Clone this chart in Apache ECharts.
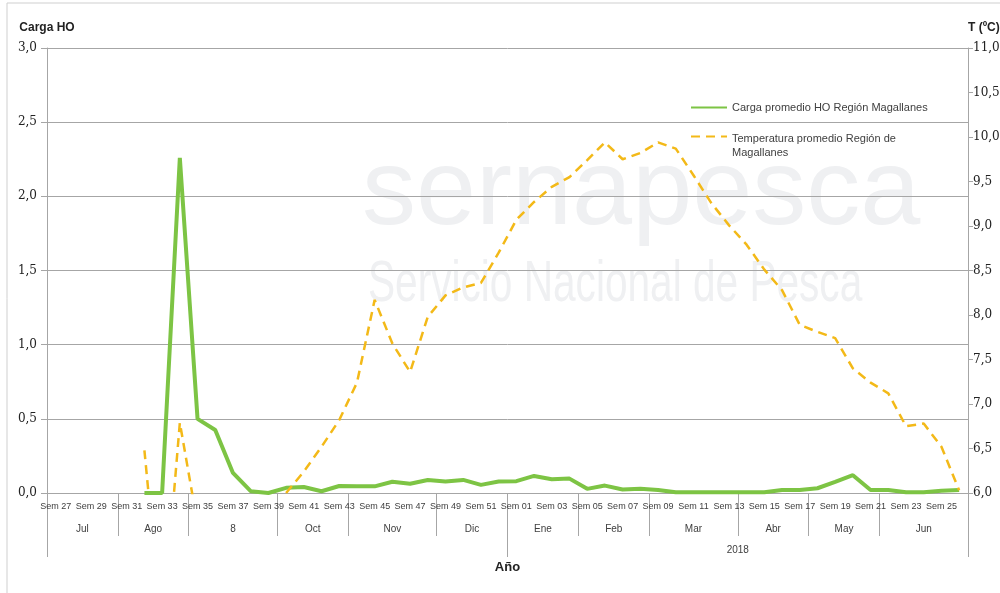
<!DOCTYPE html>
<html>
<head>
<meta charset="utf-8">
<script src="https://cdn.jsdelivr.net/npm/echarts@6/dist/echarts.min.js"></script>
<style>
  html, body { margin: 0; padding: 0; background: #fff; }
  #chart { width: 1000px; height: 593px; }
</style>
</head>
<body>
<div id="chart"></div>
<script>
// weekly categories, jul 2017 -> jun 2018
const weeks = [
  'Sem 27', 'Sem 28', 'Sem 29', 'Sem 30', 'Sem 31', 'Sem 32', 'Sem 33', 'Sem 34', 'Sem 35', 'Sem 36',
  'Sem 37', 'Sem 38', 'Sem 39', 'Sem 40', 'Sem 41', 'Sem 42', 'Sem 43', 'Sem 44', 'Sem 45', 'Sem 46',
  'Sem 47', 'Sem 48', 'Sem 49', 'Sem 50', 'Sem 51', 'Sem 52', 'Sem 01', 'Sem 02', 'Sem 03', 'Sem 04',
  'Sem 05', 'Sem 06', 'Sem 07', 'Sem 08', 'Sem 09', 'Sem 10', 'Sem 11', 'Sem 12', 'Sem 13', 'Sem 14',
  'Sem 15', 'Sem 16', 'Sem 17', 'Sem 18', 'Sem 19', 'Sem 20', 'Sem 21', 'Sem 22', 'Sem 23', 'Sem 24',
  'Sem 25', 'Sem 26'
]
const months = ['Jul', 'Ago', '8', 'Oct', 'Nov', 'Dic', 'Ene', 'Feb', 'Mar', 'Abr', 'May', 'Jun']
const monthWeeks = [4, 4, 5, 4, 5, 4, 4, 4, 5, 4, 4, 5]
const years = ['', '2018']
const yearWeeks = [26, 26]

const carga = [
  null, null, null, null, null, 0, 0, 2.26, 0.50, 0.425,
  0.135, 0.012, 0.0, 0.035, 0.04, 0.012, 0.047, 0.045, 0.045, 0.076,
  0.062, 0.088, 0.078, 0.088, 0.055, 0.078, 0.08, 0.115, 0.093, 0.097,
  0.028, 0.05, 0.024, 0.028, 0.02, 0.005, 0.005, 0.005, 0.005, 0.005,
  0.005, 0.02, 0.02, 0.032, 0.075, 0.12, 0.02, 0.02, 0.005, 0.005,
  0.015, 0.02
]
const temperatura = [
  null, null, null, null, null, 6.48, 4.4, 6.79, 5.65, null,
  null, null, null, 6.0, 6.24, 6.52, 6.82, 7.24, 8.17, 7.68,
  7.36, 7.98, 8.22, 8.31, 8.36, 8.70, 9.07, 9.27, 9.44, 9.55,
  9.74, 9.94, 9.75, 9.82, 9.94, 9.87, 9.57, 9.26, 9.01, 8.79,
  8.51, 8.28, 7.89, 7.81, 7.74, 7.40, 7.24, 7.12, 6.75, 6.78,
  6.52, 6.03
]

const cargaName = 'Carga promedio HO Región Magallanes'
const tempName = 'Temperatura promedio Región de Magallanes'

// half-week slots so a group label can sit in the middle of its weeks
function groupAxis(labels, spans) {
  const slots = new Array(weeks.length * 2 + 1).fill('')
  const edges = new Set([0])
  let start = 0
  labels.forEach((name, i) => {
    slots[start * 2 + spans[i]] = name
    start += spans[i]
    edges.add(start * 2)
  })
  return { slots, edges }
}
const monthAxis = groupAxis(months, monthWeeks)
const yearAxis = groupAxis(years, yearWeeks)

const fmt = (v) => v.toFixed(1).replace('.', ',')
const gray = '#a6a6a6'
const txt = '#404040'
const sans = 'Liberation Sans'

const chart = echarts.init(document.getElementById('chart'))
chart.setOption({
  animation: false,
  backgroundColor: '#fff',
  textStyle: { fontFamily: sans },
  grid: { left: 47, right: 32, top: 48, bottom: 100, containLabel: false, outerBoundsMode: 'none' },
  graphic: [
    { type: 'rect', z: -20, shape: { x: 7, y: 3, width: 1000, height: 600 },
      style: { fill: 'none', stroke: '#cfcfcf', lineWidth: 1 } },
    { type: 'text', z: -10, left: 362, top: 140,
      style: { text: 'sernapesca', fontSize: 108, fontFamily: sans, fill: '#eff0f2' } },
    { type: 'text', z: -10, left: 368, top: 256, scaleX: 0.7,
      style: { text: 'Servicio Nacional de Pesca', fontSize: 58, fontFamily: sans, fill: '#eff0f2' } }
  ],
  legend: [
    {
      data: [cargaName], orient: 'vertical', left: 690, top: 102, padding: 0,
      itemWidth: 36, itemHeight: 14, itemStyle: { opacity: 0 },
      textStyle: { fontFamily: sans, fontSize: 11, color: txt }
    },
    {
      data: [tempName], orient: 'vertical', left: 690, top: 131, padding: 0,
      itemWidth: 36, itemHeight: 14, itemStyle: { opacity: 0 },
      formatter: () => '{a|Temperatura promedio Región de}\n{b|Magallanes}',
      textStyle: {
        fontFamily: sans, fontSize: 11, color: txt,
        rich: {
          a: { fontFamily: sans, fontSize: 11, color: txt, lineHeight: 32, verticalAlign: 'bottom' },
          b: { fontFamily: sans, fontSize: 11, color: txt, lineHeight: 17 }
        }
      }
    }
  ],
  xAxis: [
    {
      type: 'category', position: 'bottom', data: weeks, boundaryGap: true,
      axisLine: { lineStyle: { color: gray } },
      axisTick: { interval: 0, length: 17, lineStyle: { color: gray } },
      axisLabel: { interval: 1, margin: 9, fontSize: 9, color: txt, fontFamily: sans }
    },
    {
      type: 'category', position: 'bottom', boundaryGap: false,
      data: monthAxis.slots.map((s, i) => String(i)),
      axisLine: { show: false },
      axisTick: { interval: (i) => monthAxis.edges.has(i), length: 43, lineStyle: { color: gray } },
      axisLabel: { interval: 0, margin: 31, fontSize: 10, color: txt, fontFamily: sans,
        formatter: (v) => monthAxis.slots[+v] }
    },
    {
      type: 'category', position: 'bottom', boundaryGap: false,
      data: yearAxis.slots.map((s, i) => String(i)),
      axisLine: { show: false },
      axisTick: { interval: (i) => yearAxis.edges.has(i), length: 64, lineStyle: { color: gray } },
      axisLabel: { interval: 0, margin: 52, fontSize: 10, color: txt, fontFamily: sans,
        formatter: (v) => yearAxis.slots[+v] },
      name: 'Año', nameLocation: 'middle', nameGap: 68,
      nameTextStyle: { fontSize: 13, fontWeight: 'bold', color: '#222', fontFamily: sans }
    }
  ],
  yAxis: [
    {
      type: 'value', position: 'left', min: 0, max: 3, interval: 0.5,
      name: 'Carga HO', nameGap: 14,
      nameTextStyle: { fontSize: 12, fontWeight: 'bold', color: '#222', fontFamily: sans },
      axisLine: { show: true, lineStyle: { color: gray } },
      axisTick: { show: true, length: 6, lineStyle: { color: gray } },
      splitLine: { lineStyle: { color: gray, width: 1 } },
      axisLabel: { formatter: fmt, margin: 10, fontSize: 12, color: '#222', fontFamily: 'DejaVu Serif',
        showMinLabel: true, showMaxLabel: true }
    },
    {
      type: 'value', position: 'right', min: 6, max: 11, interval: 0.5,
      name: 'T (ºC)', nameGap: 14,
      nameTextStyle: { fontSize: 12, fontWeight: 'bold', color: '#222', fontFamily: sans, align: 'left' },
      axisLine: { show: true, lineStyle: { color: gray } },
      axisTick: { show: true, length: 5, lineStyle: { color: gray } },
      splitLine: { show: false },
      axisLabel: { formatter: fmt, margin: 5, fontSize: 12, color: '#222', fontFamily: 'DejaVu Serif',
        showMinLabel: true, showMaxLabel: true }
    }
  ],
  series: [
    {
      name: cargaName, type: 'line', xAxisIndex: 0, yAxisIndex: 0,
      data: carga, symbol: 'none', connectNulls: false,
      lineStyle: { color: '#7dc444', width: 4 },
      itemStyle: { color: '#7dc444' }
    },
    {
      name: tempName, type: 'line', xAxisIndex: 0, yAxisIndex: 1,
      data: temperatura, symbol: 'none', connectNulls: false,
      lineStyle: { color: '#f3b918', width: 2.5, type: [9, 6] },
      itemStyle: { color: '#f3b918' }
    }
  ]
})
</script>
</body>
</html>
